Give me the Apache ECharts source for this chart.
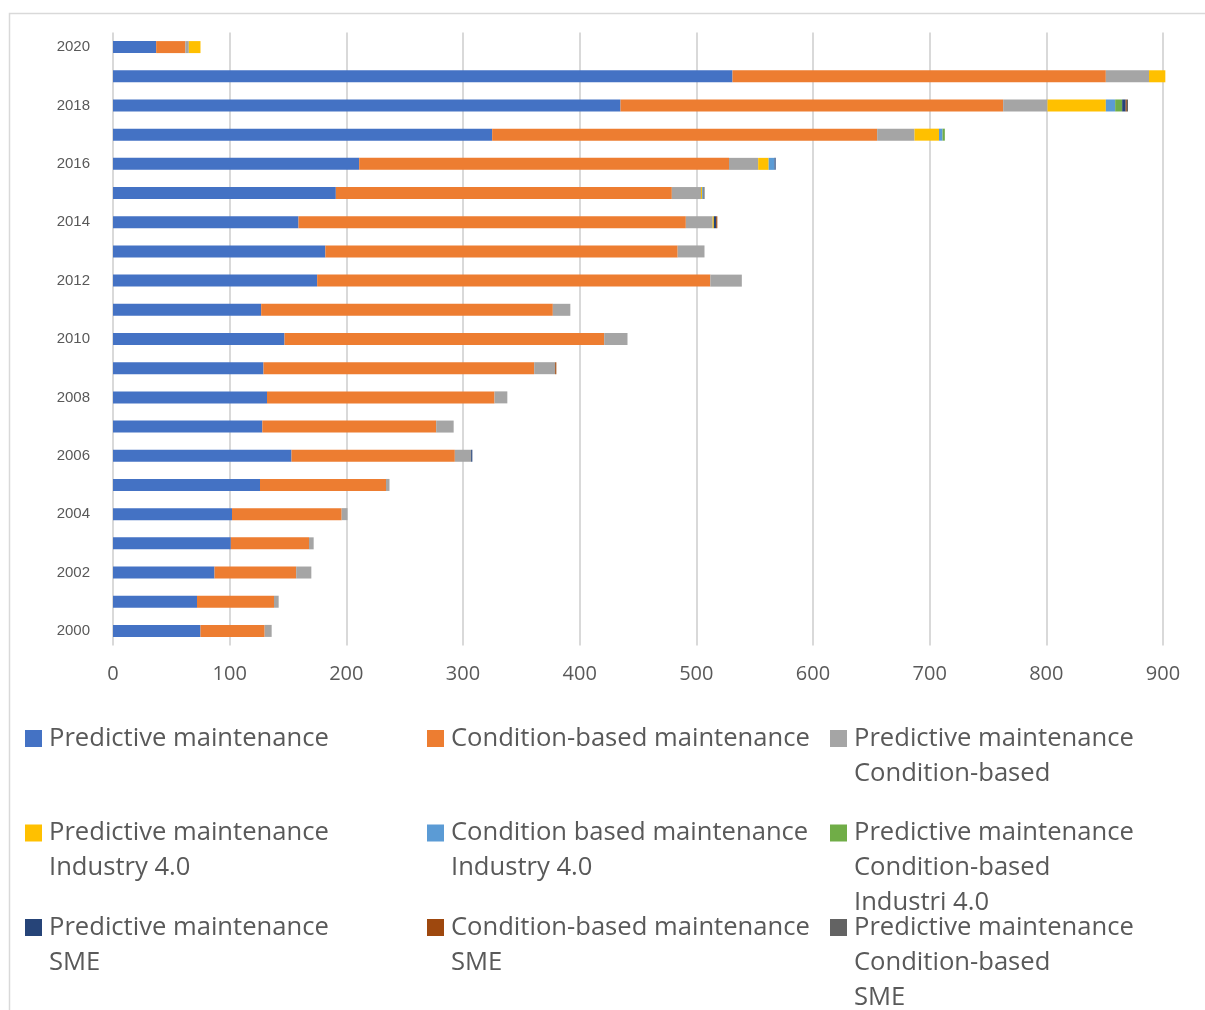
<!DOCTYPE html>
<html>
<head>
<meta charset="utf-8">
<script src="https://cdn.jsdelivr.net/npm/echarts@6/dist/echarts.min.js"></script>
<style>html,body{margin:0;padding:0;background:#fff}#c{width:1205px;height:1010px}</style>
</head>
<body>
<div id="c"></div>
<script>
const years = ['2000','2001','2002','2003','2004','2005','2006','2007','2008','2009','2010','2011','2012','2013','2014','2015','2016','2017','2018','2019','2020'];
const xTicks = [0,100,200,300,400,500,600,700,800,900];

const seriesNames = [
  'Predictive maintenance',
  'Condition-based maintenance',
  'Predictive maintenance Condition-based',
  'Predictive maintenance Industry 4.0',
  'Condition based maintenance Industry 4.0',
  'Predictive maintenance Condition-based Industri 4.0',
  'Predictive maintenance SME',
  'Condition-based maintenance SME',
  'Predictive maintenance Condition-based SME'
];
const legendLines = [
  ['Predictive maintenance'],
  ['Condition-based maintenance'],
  ['Predictive maintenance','Condition-based'],
  ['Predictive maintenance','Industry 4.0'],
  ['Condition based maintenance','Industry 4.0'],
  ['Predictive maintenance','Condition-based','Industri 4.0'],
  ['Predictive maintenance','SME'],
  ['Condition-based maintenance','SME'],
  ['Predictive maintenance','Condition-based','SME']
];
const colors = ['#4472C4','#ED7D31','#A5A5A5','#FFC000','#5B9BD5','#70AD47','#264478','#9E480E','#636363'];

//            2000 01  02  03  04  05  06  07  08  09  10  11  12  13  14  15  16  17  18  19  20
const pm      = [75, 72, 87,101,102,126,153,128,132,129,147,127,175,182,159,191,211,325,435,531, 37];
const cbm     = [55, 66, 70, 67, 94,108,140,149,195,232,274,250,337,302,332,288,317,330,328,320, 25];
const pmCb    = [ 6,  4, 13,  4,  5,  3, 14, 15, 11, 18, 20, 15, 27, 23, 23, 25, 25, 32, 38, 37,  3];
const pmI4    = [ 0,  0,  0,  0,  0,  0,  0,  0,  0,  0,  0,  0,  0,  0,  1,  1,  9, 21, 50, 14, 10];
const cbmI4   = [ 0,  0,  0,  0,  0,  0,  0,  0,  0,  0,  0,  0,  0,  0,  0,  1,  5,  3,  8,  0,  0];
const pmCbI4  = [ 0,  0,  0,  0,  0,  0,  0,  0,  0,  0,  0,  0,  0,  0,  0,  0,  0,  2,  6,  0,  0];
const pmSme   = [ 0,  0,  0,  0,  0,  0,  1,  0,  0,  0,  0,  0,  0,  0,  2,  0,  1,  0,  3,  0,  0];
const cbmSme  = [ 0,  0,  0,  0,  0,  0,  0,  0,  0,  1,  0,  0,  0,  0,  1,  0,  0,  0,  1,  0,  0];
const pmCbSme = [ 0,  0,  0,  0,  0,  0,  0,  0,  0,  0,  0,  0,  0,  0,  0,  1,  0,  0,  1,  0,  0];
const allData = [pm, cbm, pmCb, pmI4, cbmI4, pmCbI4, pmSme, cbmSme, pmCbSme];

const legendCols = [25, 427, 830];
const legendRows = [738.5, 833, 927.5];
const LH = 35;

const legends = seriesNames.map((name, i) => {
  const lines = legendLines[i];
  const k = lines.length;
  const total = 2 * k - 1;
  const text = Array(k - 1).fill('').concat(lines).join('\n');
  return {
    data: [name],
    left: legendCols[i % 3],
    top: legendRows[Math.floor(i / 3)] - total * LH / 2,
    padding: 0,
    orient: 'horizontal',
    icon: 'rect',
    itemWidth: 17,
    itemHeight: 17,
    selectedMode: false,
    formatter: () => text,
    textStyle: {
      fontFamily: 'Open Sans',
      fontSize: 25.6,
      color: '#595959',
      lineHeight: LH,
      padding: [0, 0, 0, 2]
    }
  };
});

const chart = echarts.init(document.getElementById('c'), null, {renderer: 'canvas'});
chart.setOption({
  animation: false,
  backgroundColor: '#fff',
  graphic: [{
    type: 'rect',
    shape: {x: 9.5, y: 13.5, width: 1400, height: 1200},
    style: {fill: 'none', stroke: '#d9d9d9', lineWidth: 1.5},
    silent: true,
    z: -10
  }],
  grid: {left: 113, right: 42, top: 32.5, bottom: 364.5, containLabel: false},
  xAxis: {
    type: 'value',
    min: xTicks[0],
    max: xTicks[xTicks.length - 1],
    interval: 100,
    axisLine: {show: false},
    axisTick: {show: false},
    splitLine: {show: true, lineStyle: {color: '#d9d9d9', width: 2}},
    axisLabel: {color: '#595959', fontSize: 20, fontFamily: 'Open Sans', margin: 19}
  },
  yAxis: {
    type: 'category',
    data: years,
    axisLine: {show: false},
    axisTick: {show: false},
    axisLabel: {interval: 1, color: '#595959', fontSize: 15, fontFamily: 'Liberation Sans', margin: 23}
  },
  legend: legends,
  series: seriesNames.map((name, i) => ({
    name: name,
    type: 'bar',
    stack: 'total',
    barWidth: 12,
    clip: false,
    itemStyle: {color: colors[i]},
    data: allData[i]
  }))
});
</script>
</body>
</html>
